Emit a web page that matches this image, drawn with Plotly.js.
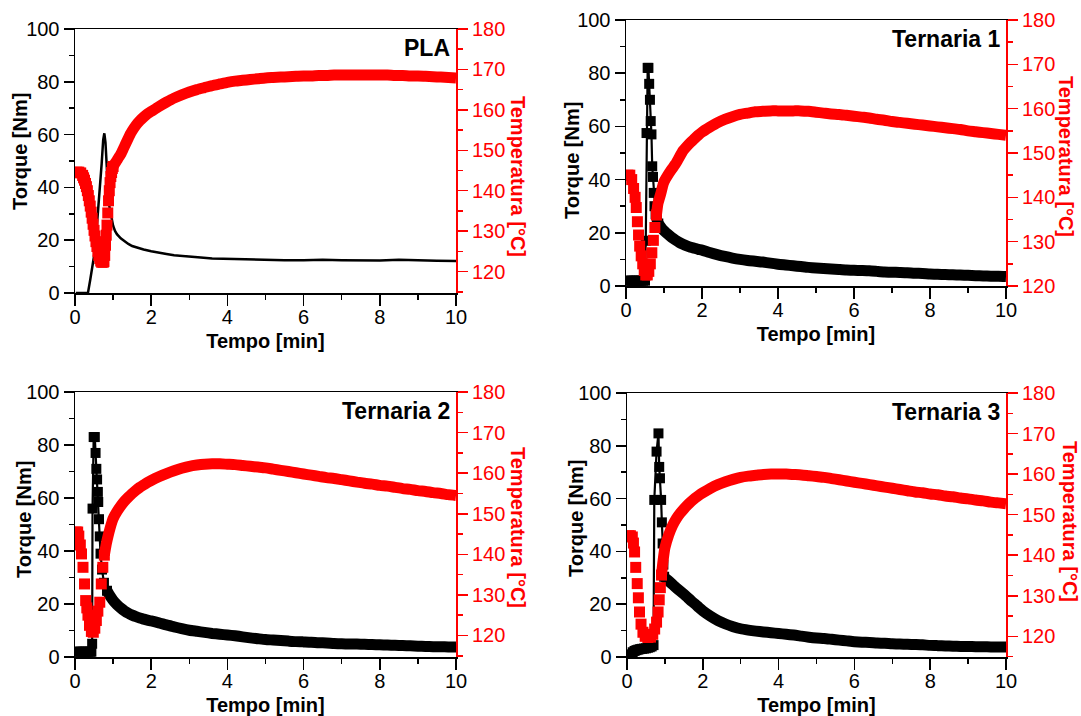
<!DOCTYPE html>
<html>
<head>
<meta charset="utf-8">
<script src="https://cdn.plot.ly/plotly-3.0.1.min.js"></script>
<style>html,body{margin:0;padding:0;background:#fff;}#chart{width:1081px;height:716px;}</style>
</head>
<body>
<div id="chart"></div>
<script>
// ---------- PLA ----------
const pla_torque_t = [0.02,0.1,0.2,0.3,0.34,0.4,0.45,0.5,0.55,0.6,0.66,0.7,0.74,0.77,0.8,0.83,0.87,0.9,0.95,1.0,1.05,1.1,1.2,1.3,1.4,1.5,1.6,1.8,2.0,2.2,2.4,2.6,2.8,3.0,3.3,3.6,4.0,4.5,5.0,5.5,6.0,6.5,7.0,7.5,8.0,8.5,9.0,9.5,10.0];
const pla_torque   = [0,0,0,0,0,5,9,14,21,30,40,49,58,60.5,57,48,38,33,28.5,25.5,23.5,22.3,20.7,19.5,18.6,17.8,17.3,16.5,15.8,15.2,14.8,14.3,14.0,13.8,13.4,13.1,12.9,12.7,12.5,12.4,12.4,12.6,12.4,12.4,12.3,12.6,12.3,12.2,12.1];
const pla_temp_t = [0.05,0.1,0.15,0.2,0.225,0.25,0.275,0.3,0.325,0.35,0.375,0.4,0.425,0.45,0.475,0.5,0.525,0.55,0.575,0.6,0.625,0.65,0.675,0.7,0.74,0.76,0.78,0.8,0.82,0.84,0.86,0.88,0.9,0.92,0.94,0.96,0.98,1.0,1.05,1.1,1.15,1.2,1.25,1.3,1.35,1.4,1.45,1.5,1.6,1.7,1.8,1.9,2.0,2.2,2.4,2.6,2.8,3.0,3.2,3.4,3.6,3.8,4.0,4.2,4.4,4.6,4.8,5.0,5.2,5.4,5.6,5.8,6.0,6.2,6.4,6.6,6.8,7.0,7.2,7.4,7.6,7.8,8.0,8.2,8.4,8.6,8.8,9.0,9.2,9.4,9.6,9.8,10.0];
const pla_temp   = [144.6,144.6,144.4,143.8,143.2,142.6,141.8,141,140,138.8,137.5,136.2,134.7,133.2,131.7,130.2,128.8,127.4,126.2,125,124,123.2,122.6,122.3,122.3,122.5,124,126.5,129,131.5,134.5,137.5,140,142,143.5,144.5,145.5,146,146.8,147.5,148.3,149,150,151,152,153,154,154.8,156.2,157.3,158.2,159,159.6,160.8,161.9,162.9,163.7,164.4,165,165.5,166,166.4,166.8,167.1,167.3,167.5,167.7,167.9,168,168.1,168.2,168.3,168.4,168.4,168.5,168.5,168.6,168.6,168.6,168.6,168.6,168.6,168.6,168.6,168.5,168.5,168.4,168.4,168.3,168.2,168.1,168,167.9];

// ---------- Ternaria 1 ----------
const t1_torque_t = [0.05,0.1,0.15,0.2,0.25,0.3,0.35,0.4,0.45,0.5,0.52,0.54,0.57,0.59,0.61,0.63,0.65,0.67,0.69,0.71,0.73,0.75,0.78,0.81,0.85,0.9,0.95,1.0,1.1,1.2,1.3,1.4,1.5,1.6,1.7,1.8,1.9,2.0,2.2,2.4,2.6,2.8,3.0,3.2,3.4,3.6,3.8,4.0,4.2,4.4,4.6,4.8,5.0,5.2,5.4,5.6,5.8,6.0,6.2,6.4,6.6,6.8,7.0,7.2,7.4,7.6,7.8,8.0,8.2,8.4,8.6,8.8,9.0,9.2,9.4,9.6,9.8,10.0];
const t1_torque   = [2,2,2,2,2,2,2,2,2,2,17,57.5,82,82,76,70,62,57,45,41,35,30,27,25,23.5,22.5,21.5,20.8,19.5,18.3,17.3,16.4,15.7,15.1,14.6,14.2,13.8,13.5,12.6,11.8,11.1,10.5,10.0,9.6,9.3,9.0,8.6,8.2,7.9,7.6,7.3,7.0,6.8,6.6,6.4,6.2,6.0,5.9,5.8,5.7,5.5,5.3,5.2,5.1,5.0,4.8,4.7,4.5,4.4,4.3,4.2,4.1,4.0,3.9,3.8,3.7,3.7,3.6];
const t1_temp_t = [0.05,0.1,0.15,0.2,0.24,0.27,0.3,0.33,0.36,0.4,0.44,0.48,0.52,0.56,0.6,0.64,0.68,0.72,0.76,0.8,0.84,0.88,0.92,0.96,1.0,1.1,1.2,1.3,1.4,1.5,1.6,1.7,1.8,1.9,2.0,2.2,2.4,2.6,2.8,3.0,3.2,3.4,3.6,3.8,4.0,4.2,4.4,4.6,4.8,5.0,5.2,5.4,5.6,5.8,6.0,6.2,6.4,6.6,6.8,7.0,7.2,7.4,7.6,7.8,8.0,8.2,8.4,8.6,8.8,9.0,9.2,9.4,9.6,9.8,10.0];
const t1_temp   = [145,145,144,142,140,137.7,134.5,131.5,129,126.8,125,123.5,122.5,122.5,123.3,125,127.5,130.3,133.2,136,138.6,139.8,141,142.4,143.5,145,146.3,147.5,149,150.5,151.5,152.4,153.2,154,154.7,155.8,156.8,157.6,158.2,158.7,159,159.3,159.4,159.5,159.5,159.5,159.5,159.5,159.4,159.2,159.0,158.8,158.7,158.5,158.3,158.1,157.9,157.6,157.4,157.1,156.9,156.7,156.5,156.3,156.1,155.9,155.7,155.5,155.3,155.0,154.8,154.6,154.4,154.2,154.0];

// ---------- Ternaria 2 ----------
const t2_torque_t = [0.05,0.1,0.15,0.2,0.25,0.3,0.35,0.4,0.43,0.45,0.46,0.49,0.52,0.54,0.56,0.58,0.6,0.61,0.63,0.65,0.67,0.71,0.76,0.84,0.9,1.0,1.1,1.2,1.3,1.4,1.5,1.6,1.7,1.8,1.9,2.0,2.2,2.4,2.6,2.8,3.0,3.2,3.4,3.6,3.8,4.0,4.2,4.4,4.6,4.8,5.0,5.2,5.4,5.6,5.8,6.0,6.2,6.4,6.6,6.8,7.0,7.2,7.4,7.6,7.8,8.0,8.2,8.4,8.6,8.8,9.0,9.2,9.4,9.6,9.8,10.0];
const t2_torque   = [2,2,2,2,2,2,2,2,2,5,56,83,83,77,71,67,62.3,58.5,52,45.5,39,33,28,25,23.5,21.4,19.8,18.5,17.4,16.5,15.8,15.2,14.7,14.3,13.9,13.6,12.9,12.1,11.4,10.7,10.1,9.7,9.3,8.9,8.6,8.3,8.0,7.6,7.2,6.9,6.6,6.4,6.2,6.0,5.8,5.7,5.6,5.4,5.3,5.1,5.0,4.9,4.9,4.8,4.7,4.6,4.5,4.4,4.3,4.2,4.1,4.0,3.9,3.9,3.8,3.8];
const t2_temp_t = [0.03,0.07,0.1,0.14,0.17,0.21,0.25,0.28,0.31,0.34,0.38,0.43,0.48,0.52,0.56,0.6,0.65,0.69,0.73,0.77,0.82,0.87,0.92,0.97,1.0,1.1,1.2,1.3,1.4,1.5,1.6,1.7,1.8,1.9,2.0,2.2,2.4,2.6,2.8,3.0,3.2,3.4,3.6,3.8,4.0,4.2,4.4,4.6,4.8,5.0,5.2,5.4,5.6,5.8,6.0,6.2,6.4,6.6,6.8,7.0,7.2,7.4,7.6,7.8,8.0,8.2,8.4,8.6,8.8,9.0,9.2,9.4,9.6,9.8,10.0];
const t2_temp   = [145.5,145.5,144.5,142.3,140.1,136.8,132.7,128.6,126.8,125,122.5,121,120.8,121.8,123.7,126,128.2,132.7,136.8,139.8,142.5,144.6,146.4,148,148.8,150.5,151.9,153.1,154.1,155,155.8,156.5,157.1,157.7,158.2,159.1,159.9,160.6,161.2,161.7,162,162.2,162.3,162.3,162.2,162.1,161.9,161.7,161.5,161.3,161.0,160.7,160.4,160.1,159.8,159.5,159.2,158.9,158.7,158.4,158.1,157.8,157.5,157.3,157.0,156.8,156.5,156.2,156.0,155.7,155.5,155.2,155.0,154.7,154.5];

// ---------- Ternaria 3 ----------
const t3_torque_t = [0.05,0.1,0.15,0.2,0.25,0.3,0.35,0.4,0.45,0.5,0.55,0.6,0.65,0.7,0.72,0.78,0.83,0.85,0.87,0.9,0.92,0.94,0.96,0.98,1.0,1.1,1.2,1.3,1.4,1.5,1.6,1.7,1.8,1.9,2.0,2.2,2.4,2.6,2.8,3.0,3.2,3.4,3.6,3.8,4.0,4.2,4.4,4.6,4.8,5.0,5.2,5.4,5.6,5.8,6.0,6.2,6.4,6.6,6.8,7.0,7.2,7.4,7.6,7.8,8.0,8.2,8.4,8.6,8.8,9.0,9.2,9.4,9.6,9.8,10.0];
const t3_torque   = [0.6,1,1.8,2.3,2.6,2.8,3,3.1,3.2,3.3,3.5,3.7,4,4.5,59.5,77.8,84.7,72,67.7,59.5,51,43,35,30.4,30,28.8,27.5,26.2,25,23.8,22.5,21.2,20,18.7,17.5,15.5,13.8,12.5,11.5,10.7,10.2,9.8,9.5,9.2,8.9,8.6,8.3,7.9,7.5,7.2,7.0,6.7,6.4,6.1,5.8,5.6,5.5,5.3,5.2,5.0,4.9,4.8,4.7,4.6,4.4,4.3,4.2,4.1,4.0,4.0,3.9,3.9,3.8,3.8,3.8];
const t3_temp_t = [0.05,0.09,0.14,0.17,0.2,0.23,0.27,0.3,0.33,0.37,0.42,0.48,0.55,0.62,0.68,0.73,0.78,0.82,0.85,0.88,0.91,0.95,1.0,1.1,1.2,1.3,1.4,1.5,1.6,1.7,1.8,1.9,2.0,2.2,2.4,2.6,2.8,3.0,3.2,3.4,3.6,3.8,4.0,4.2,4.4,4.6,4.8,5.0,5.2,5.4,5.6,5.8,6.0,6.2,6.4,6.6,6.8,7.0,7.2,7.4,7.6,7.8,8.0,8.2,8.4,8.6,8.8,9.0,9.2,9.4,9.6,9.8,10.0];
const t3_temp   = [144.8,144.8,144.5,143,140.8,137,133,129.5,126,123,121,120,119.7,119.8,120.5,121.8,123.5,126,129,132,135.1,138.5,141.8,145,147.3,149,150.3,151.4,152.4,153.3,154.1,154.8,155.4,156.5,157.4,158.1,158.7,159.2,159.5,159.7,159.9,160,160,160,159.9,159.8,159.6,159.4,159.2,158.9,158.6,158.3,158.0,157.7,157.4,157.1,156.8,156.5,156.2,155.9,155.6,155.4,155.1,154.9,154.6,154.4,154.1,153.9,153.6,153.4,153.1,152.9,152.7];

const panelNames = ['PLA','Ternaria 1','Ternaria 2','Ternaria 3'];

const FONT = 'Arial, "Liberation Sans", Helvetica, sans-serif';
const RED = '#ff0000';
const W = 1081, H = 716;

// pixel boxes of each panel: [left, right, top, bottom]
const boxes = [[75,456,29,293],[626,1006,20,286],[75,456,392,657],[627,1006,393,657]];
const tempRanges = [[114.7,180],[120,180],[114.7,180],[114.9,180]];
// times from which the densely recorded points merge into a continuous band
const torqueBandFrom = [null, 0.85, 0.84, 0.98];
const tempBandFrom = [1.0, 0.8, 0.75, 0.9];

const traces = [];
function axNames(i){ return {x:'x'+(i===0?'':(i+1)), yl:'y'+(i===0?'':(2*i+1)), yr:'y'+(2*i+2)}; }
function split(t, v, from){
  const a=[[],[]], b=[[],[]];
  t.forEach((x,k)=>{
    if(x < from){ a[0].push(x); a[1].push(v[k]); }
    else { b[0].push(x); b[1].push(v[k]); }
  });
  return [a,b];
}
function addTorque(i, t, v, asLine){
  const ax = axNames(i);
  if(asLine){
    traces.push({x:t, y:v, xaxis:ax.x, yaxis:ax.yl, type:'scatter', mode:'lines',
      line:{color:'#000', width:2.5}, hoverinfo:'skip'});
    return;
  }
  const [early, band] = split(t, v, torqueBandFrom[i]);
  traces.push({x:band[0], y:band[1], xaxis:ax.x, yaxis:ax.yl, type:'scatter', mode:'lines',
    line:{color:'#000', width:11, shape:'spline', smoothing:0.6}, hoverinfo:'skip'});
  traces.push({x:early[0].concat(band[0].slice(0,1)), y:early[1].concat(band[1].slice(0,1)),
    xaxis:ax.x, yaxis:ax.yl, type:'scatter', mode:'lines+markers',
    line:{color:'#000', width:2.2},
    marker:{symbol:'square', size:10, color:'#000'}, hoverinfo:'skip'});
}
function addTemp(i, t, v){
  const ax = axNames(i);
  const [early, band] = split(t, v, tempBandFrom[i]);
  traces.push({x:band[0], y:band[1], xaxis:ax.x, yaxis:ax.yr, type:'scatter', mode:'lines',
    line:{color:RED, width:11, shape:'spline', smoothing:0.6}, hoverinfo:'skip'});
  traces.push({x:early[0].concat(band[0].slice(0,1)), y:early[1].concat(band[1].slice(0,1)),
    xaxis:ax.x, yaxis:ax.yr, type:'scatter', mode:'markers',
    marker:{symbol:'square', size:11, color:RED}, hoverinfo:'skip'});
}
addTorque(0, pla_torque_t, pla_torque, true);
addTorque(1, t1_torque_t, t1_torque, false);
addTorque(2, t2_torque_t, t2_torque, false);
addTorque(3, t3_torque_t, t3_torque, false);
addTemp(0, pla_temp_t, pla_temp);
addTemp(1, t1_temp_t, t1_temp);
addTemp(2, t2_temp_t, t2_temp);
addTemp(3, t3_temp_t, t3_temp);

const layout = {
  width:W, height:H, margin:{l:0,r:0,t:0,b:0},
  paper_bgcolor:'#fff', plot_bgcolor:'#fff', showlegend:false,
  font:{family:FONT, color:'#000'},
  annotations:[]
};

const tickBase = {ticks:'outside', ticklen:10, tickwidth:1.5, showgrid:false, zeroline:false,
  showline:true, linewidth:1.5};
const TITLE_SIZE = 20;

boxes.forEach((b,i)=>{
  const xd = [b[0]/W, b[1]/W];
  const yd = [1-b[3]/H, 1-b[2]/H];
  const xk = 'xaxis'+(i===0?'':(i+1));
  const ylk = 'yaxis'+(i===0?'':(2*i+1));
  const yrk = 'yaxis'+(2*i+2);
  const ax = axNames(i);
  layout[xk] = Object.assign({}, tickBase, {
    domain:xd, anchor:ax.yl, range:[0,10], dtick:2, tick0:0, ticklen:11,
    ticklabelstandoff:-6,
    linecolor:'#000', tickcolor:'#000', mirror:true,
    minor:{dtick:1, ticks:'outside', ticklen:5, tickwidth:1.5, tickcolor:'#000'},
    tickfont:{size:20, family:FONT, color:'#000'},
    title:{text:'Tempo [min]', font:{size:TITLE_SIZE, family:FONT, weight:'bold', color:'#000'}, standoff:7}
  });
  layout[ylk] = Object.assign({}, tickBase, {
    domain:yd, anchor:ax.x, range:[0,100], dtick:20, tick0:0,
    linecolor:'#000', tickcolor:'#000',
    minor:{dtick:10, ticks:'outside', ticklen:5, tickwidth:1.5, tickcolor:'#000'},
    tickfont:{size:20, family:FONT, color:'#000'}
  });
  layout[yrk] = Object.assign({}, tickBase, {
    overlaying:ax.yl, side:'right', anchor:ax.x, range:tempRanges[i], dtick:10, tick0:0,
    linecolor:RED, tickcolor:RED, linewidth:2,
    minor:{dtick:5, ticks:'outside', ticklen:5, tickwidth:1.5, tickcolor:RED},
    tickfont:{size:20, family:FONT, color:RED}
  });
  // left axis title (reads bottom to top)
  const ltx = [20,572,24,576][i];
  const lty = [152,161,520,519][i];
  layout.annotations.push({xref:'paper', yref:'paper', x:ltx/W, y:1-lty/H, xanchor:'center', yanchor:'middle',
    text:'Torque [Nm]', textangle:-90, showarrow:false,
    font:{size:TITLE_SIZE, family:FONT, weight:'bold', color:'#000'}});
  // right axis title (reads top to bottom)
  const rtx = [518,1066,518,1070][i];
  const rty = [176,156,527,521][i];
  layout.annotations.push({xref:'paper', yref:'paper', x:rtx/W, y:1-rty/H, xanchor:'center', yanchor:'middle',
    text:'Temperatura [°C]', textangle:90, showarrow:false,
    font:{size:TITLE_SIZE, family:FONT, weight:'bold', color:RED}});
  // panel label
  layout.annotations.push({xref:'paper', yref:'paper', x:(b[1]-4)/W, y:1-(b[2]+4)/H, xanchor:'right', yanchor:'top',
    text:panelNames[i], showarrow:false,
    font:{size:23, family:FONT, weight:'bold', color:'#000'}});
});

Plotly.newPlot('chart', traces, layout, {staticPlot:true, displayModeBar:false});
</script>
</body>
</html>
